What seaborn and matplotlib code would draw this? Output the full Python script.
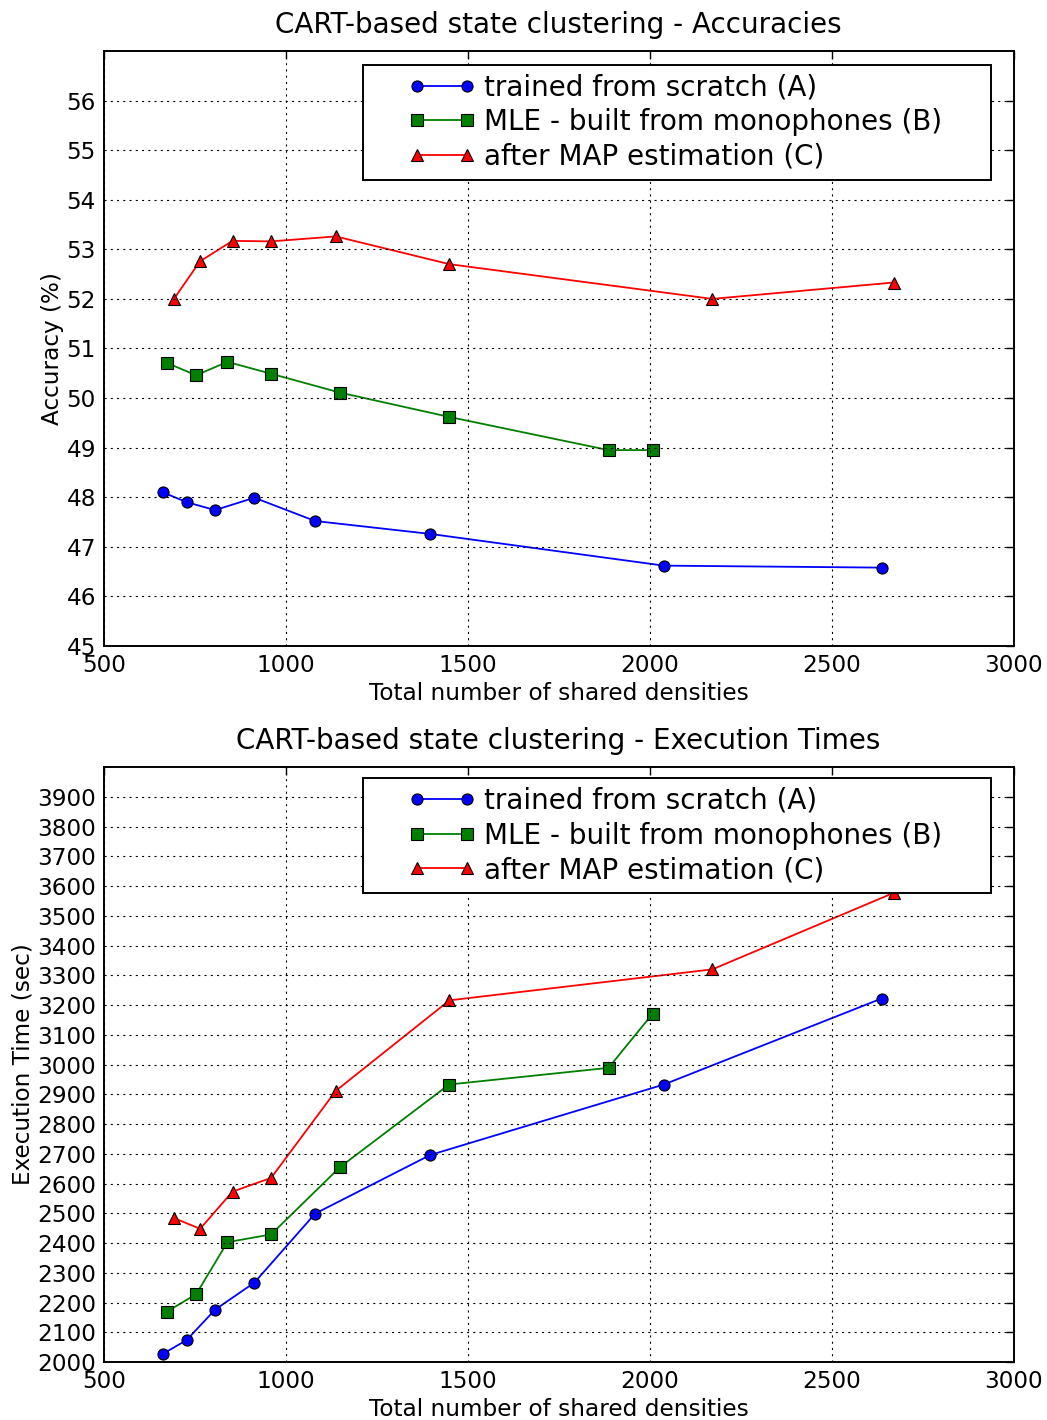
import numpy as np
import pandas as pd
import seaborn as sns
import matplotlib
matplotlib.use('Agg')
import matplotlib.pyplot as plt
from matplotlib.lines import Line2D
from matplotlib.legend_handler import HandlerLine2D

# number of shared densities per system
dens_a = [662, 728, 806, 914, 1081, 1397, 2039, 2637]
dens_b = [673, 754, 840, 960, 1149, 1449, 1887, 2008]
dens_c = [693, 765, 854, 960, 1138, 1450, 2172, 2670]

# accuracies (%)
acc_a = [48.10, 47.90, 47.74, 47.99, 47.52, 47.26, 46.62, 46.58]
acc_b = [50.71, 50.46, 50.73, 50.49, 50.11, 49.62, 48.95, 48.95]
acc_c = [52.00, 52.76, 53.17, 53.16, 53.26, 52.70, 52.00, 52.33]

# execution times (sec)
time_a = [2027, 2074, 2176, 2267, 2499, 2696, 2933, 3222]
time_b = [2169, 2228, 2403, 2429, 2655, 2933, 2989, 3171]
time_c = [2484, 2448, 2573, 2619, 2912, 3216, 3320, 3577]

labels = ['trained from scratch (A)',
          'MLE - built from monophones (B)',
          'after MAP estimation (C)']

sns.set_style('white')
plt.rcParams.update({
    'font.family': ['DejaVu Sans'],
    'text.color': 'black',
    'axes.labelcolor': 'black',
    'axes.linewidth': 1.4,
    'xtick.direction': 'in', 'ytick.direction': 'in',
    'xtick.top': True, 'ytick.right': True,
    'xtick.major.size': 5.6, 'ytick.major.size': 5.6,
    'xtick.major.width': 1.0, 'ytick.major.width': 1.0,
    'xtick.major.pad': 5.6, 'ytick.major.pad': 5.6,
    'xtick.labelsize': 16.7, 'ytick.labelsize': 16.7,
    'axes.labelsize': 16.7, 'axes.titlesize': 20,
    'xtick.color': 'black', 'ytick.color': 'black',
    'axes.edgecolor': 'black',
    'lines.scale_dashes': False,
})

acc = pd.DataFrame({'dens': dens_a + dens_b + dens_c,
                    'val': acc_a + acc_b + acc_c,
                    'sys': [labels[0]] * 8 + [labels[1]] * 8 + [labels[2]] * 8})
tim = pd.DataFrame({'dens': dens_a + dens_b + dens_c,
                    'val': time_a + time_b + time_c,
                    'sys': [labels[0]] * 8 + [labels[1]] * 8 + [labels[2]] * 8})

colors = ['#0000ff', '#007f00', '#ff0000']
markers = ['o', 's', '^']

fig = plt.figure(figsize=(10.47, 14.2), dpi=100)
ax1 = fig.add_axes([0.0990, 0.5451, 0.8692, 0.4190])
ax2 = fig.add_axes([0.0990, 0.0408, 0.8692, 0.4190])


def draw(ax, df, ylim, yticks, ylabel, title, legtop):
    for lab, col, mk in zip(labels, colors, markers):
        sub = df[df['sys'] == lab]
        sns.lineplot(data=sub, x='dens', y='val', ax=ax, color=col,
                     marker=mk, markersize=8, markeredgecolor='black',
                     markeredgewidth=0.8, linewidth=1.3, label=lab,
                     legend=False)
    ax.set_xlim(500, 3000)
    ax.set_ylim(*ylim)
    ax.set_xticks(range(500, 3001, 500))
    ax.set_yticks(yticks)
    ax.grid(True, color='black', linestyle=(0, (1.5, 3)), linewidth=0.8)
    ax.set_axisbelow(False)
    ax.set_xlabel('Total number of shared densities', labelpad=4)
    ax.set_ylabel(ylabel, labelpad=2)
    ax.set_title(title, pad=13)
    leg = ax.legend(loc='upper left', bbox_to_anchor=(0.285, 0, 0.6897, legtop),
                    mode='expand', borderaxespad=0, borderpad=0.32,
                    labelspacing=0.24, handlelength=3.72, handletextpad=0.33,
                    fontsize=20, fancybox=False, framealpha=1,
                    handler_map={Line2D: HandlerLine2D(numpoints=2, xpad=1.31)})
    leg.get_frame().set_edgecolor('black')
    leg.get_frame().set_linewidth(1.4)


draw(ax1, acc, (45, 57), np.arange(45, 57), 'Accuracy (%)',
     'CART-based state clustering - Accuracies', 0.977)
draw(ax2, tim, (2000, 4000), np.arange(2000, 4000, 100), 'Execution Time (sec)',
     'CART-based state clustering - Execution Times', 0.9817)

fig.savefig('out.png', dpi=100)
